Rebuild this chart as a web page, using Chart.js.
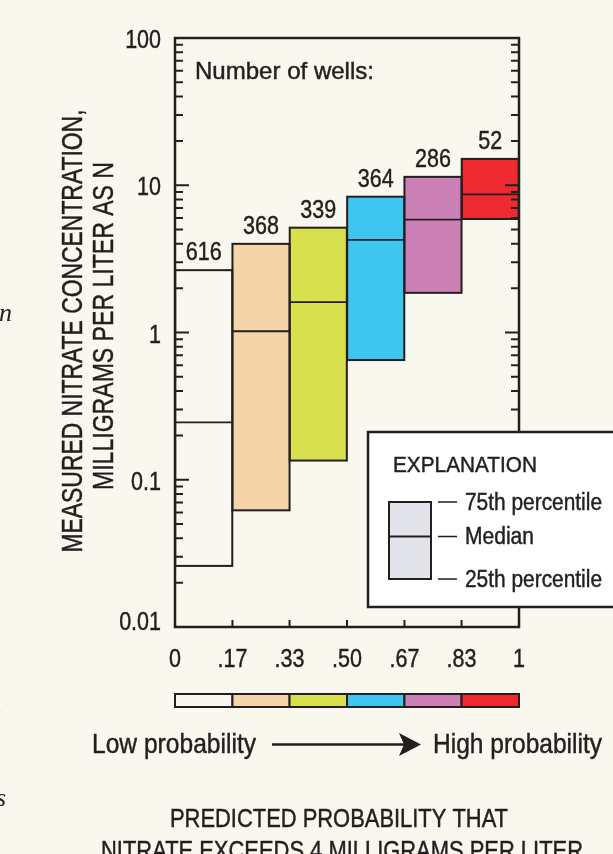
<!DOCTYPE html>
<html>
<head>
<meta charset="utf-8">
<script src="https://cdn.jsdelivr.net/npm/chart.js@4"></script>
<style>
  html, body { margin: 0; padding: 0; background: #f9f8ee; }
  #wrap { width: 613px; height: 854px; position: relative; }
</style>
</head>
<body>
<div id="wrap"><canvas id="nitrateChart"></canvas></div>
<script>
// probability classes (bin edges) and tick labels
const binEdges = [0, 0.167, 0.333, 0.5, 0.667, 0.833, 1];
const xTickLabels = ["0", ".17", ".33", ".50", ".67", ".83", "1"];
const yTickValues = [0.01, 0.1, 1, 10, 100];
const yTickLabels = ["0.01", "0.1", "1", "10", "100"];

// measured nitrate, mg/L as N
const wellCounts = [616, 368, 339, 364, 286, 52];
const pct25 = [0.026, 0.062, 0.135, 0.65, 1.86, 5.9];
const median = [0.245, 1.02, 1.61, 4.26, 5.84, 8.67];
const pct75 = [2.65, 4.0, 5.15, 8.36, 11.4, 15.1];
const boxColors = ["#f8f8f1", "#f5d4a9", "#d8e04d", "#3ec6f1", "#cc81b6", "#ec2a2f"];

const FONT = '"Liberation Sans Narrow", "Arial Narrow", "Liberation Sans", sans-serif';
const INK = "#231f20";

// text helper: squeezes to a target width (or a fixed condensed ratio)
function drawText(ctx, text, x, y, size, width, align, rotate) {
  ctx.save();
  ctx.font = size + "px " + FONT;
  const w = ctx.measureText(text).width;
  ctx.translate(x, y);
  if (rotate) ctx.rotate(rotate);
  ctx.scale(width ? width / w : 0.86, 1);
  ctx.textAlign = align || "left";
  ctx.textBaseline = "alphabetic";
  ctx.fillStyle = INK;
  ctx.strokeStyle = INK;
  ctx.lineWidth = 0.45;
  ctx.fillText(text, 0, 0);
  ctx.strokeText(text, 0, 0);
  ctx.restore();
}

const decorPlugin = {
  id: "decor",
  beforeDraw(chart) {
    const ctx = chart.ctx;
    ctx.save();
    ctx.fillStyle = "#f9f8ee";
    ctx.fillRect(0, 0, chart.width, chart.height);
    ctx.restore();
  },
  afterDatasetsDraw(chart) {
    const ctx = chart.ctx;
    const xs = chart.scales.x;
    const ys = chart.scales.y;
    const area = chart.chartArea;
    const bars = chart.getDatasetMeta(0).data;

    ctx.save();
    ctx.strokeStyle = INK;

    // box outlines + medians + counts
    bars.forEach((bar, i) => {
      const left = bar.x - bar.width / 2;
      const top = ys.getPixelForValue(pct75[i]);
      const bottom = ys.getPixelForValue(pct25[i]);
      ctx.lineWidth = 2;
      ctx.strokeRect(left, top, bar.width, bottom - top);
      const my = ys.getPixelForValue(median[i]);
      ctx.lineWidth = 1.8;
      ctx.beginPath();
      ctx.moveTo(left, my);
      ctx.lineTo(left + bar.width, my);
      ctx.stroke();
      drawText(ctx, String(wellCounts[i]), bar.x, top - 10, 25, 0, "center");
    });

    // frame
    ctx.lineWidth = 2.5;
    ctx.strokeRect(area.left, area.top, area.right - area.left, area.bottom - area.top);

    // y ticks, both sides, pointing inward
    ctx.lineWidth = 2;
    for (let d = 0; d < yTickValues.length; d++) {
      const dec = yTickValues[d];
      for (let m = 1; m <= 9; m++) {
        if (m > 1 && d === yTickValues.length - 1) continue;
        const py = ys.getPixelForValue(dec * m);
        const len = m === 1 ? 14 : 8;
        ctx.beginPath();
        ctx.moveTo(area.left, py);
        ctx.lineTo(area.left + len, py);
        ctx.moveTo(area.right, py);
        ctx.lineTo(area.right - len, py);
        ctx.stroke();
      }
    }
    // x ticks
    binEdges.forEach((v, i) => {
      if (i === 0 || i === binEdges.length - 1) return;
      const px = xs.getPixelForValue(v);
      ctx.beginPath();
      ctx.moveTo(px, area.bottom);
      ctx.lineTo(px, area.bottom - 7);
      ctx.stroke();
    });

    // tick labels
    yTickValues.forEach((v, i) => {
      const py = Math.min(ys.getPixelForValue(v) + 1, area.bottom - 6);
      drawText(ctx, yTickLabels[i], area.left - 14, py + 9, 25, 0, "right");
    });
    binEdges.forEach((v, i) => {
      drawText(ctx, xTickLabels[i], xs.getPixelForValue(v), area.bottom + 40, 25, 0, "center");
    });

    drawText(ctx, "Number of wells:", area.left + 20, 79, 24, 179);

    // y axis title
    drawText(ctx, "MEASURED NITRATE CONCENTRATION,", 82, 331, 29, 443, "center", -Math.PI / 2);
    drawText(ctx, "MILLIGRAMS PER LITER AS N", 113, 326, 29, 328, "center", -Math.PI / 2);

    // explanation box
    ctx.fillStyle = "#ffffff";
    ctx.fillRect(368, 432, 260, 175);
    ctx.lineWidth = 2.5;
    ctx.strokeRect(368, 432, 260, 175);
    drawText(ctx, "EXPLANATION", 393, 472, 22, 144);
    ctx.fillStyle = "#e2e4ea";
    ctx.fillRect(389, 502, 42, 77);
    ctx.lineWidth = 2;
    ctx.strokeRect(389, 502, 42, 77);
    ctx.beginPath();
    ctx.moveTo(389, 536.5);
    ctx.lineTo(431, 536.5);
    ctx.stroke();
    ctx.lineWidth = 1.5;
    [502, 536.5, 579].forEach(py => {
      ctx.beginPath();
      ctx.moveTo(438, py);
      ctx.lineTo(457, py);
      ctx.stroke();
    });
    drawText(ctx, "75th percentile", 465, 510, 23, 137);
    drawText(ctx, "Median", 465, 544, 23, 69);
    drawText(ctx, "25th percentile", 465, 587, 23, 137);

    // colour bar under the x axis
    for (let i = 0; i < boxColors.length; i++) {
      const x0 = xs.getPixelForValue(binEdges[i]);
      const x1 = xs.getPixelForValue(binEdges[i + 1]);
      ctx.fillStyle = boxColors[i];
      ctx.fillRect(x0, 694, x1 - x0, 13);
      ctx.lineWidth = 2;
      ctx.strokeRect(x0, 694, x1 - x0, 13);
    }

    drawText(ctx, "Low probability", 92, 753, 28, 164);
    drawText(ctx, "High probability", 433, 753, 28, 169);
    ctx.lineWidth = 2.5;
    ctx.beginPath();
    ctx.moveTo(272, 744.5);
    ctx.lineTo(405, 744.5);
    ctx.stroke();
    ctx.fillStyle = INK;
    ctx.beginPath();
    ctx.moveTo(399, 733);
    ctx.lineTo(421, 744.5);
    ctx.lineTo(399, 756);
    ctx.lineTo(404, 744.5);
    ctx.closePath();
    ctx.fill();

    drawText(ctx, "PREDICTED PROBABILITY THAT", 339, 827, 26, 338, "center");
    drawText(ctx, "NITRATE EXCEEDS 4 MILLIGRAMS PER LITER", 342, 859, 26, 482, "center");

    // bits of the neighbouring page text
    ctx.font = 'italic 26px "Liberation Serif", serif';
    ctx.fillStyle = INK;
    ctx.textAlign = "left";
    ctx.fillText("n", -1, 321);
    ctx.fillText("L", -13, 716);
    ctx.fillText("s", -4, 806);
    ctx.restore();
  }
};

new Chart(document.getElementById("nitrateChart").getContext("2d"), {
  type: "bar",
  data: {
    datasets: [
      {
        data: pct25.map((lo, i) => ({ x: (binEdges[i] + binEdges[i + 1]) / 2, y: [lo, pct75[i]] })),
        backgroundColor: boxColors,
        borderWidth: 0,
        barPercentage: 1,
        categoryPercentage: 1,
      },
    ],
  },
  options: {
    responsive: true,
    maintainAspectRatio: false,
    animation: false,
    layout: { padding: { left: 175, right: 94, top: 38, bottom: 227 } },
    plugins: {
      legend: { display: false },
      tooltip: { enabled: false },
    },
    scales: {
      x: {
        type: "linear",
        display: false,
        offset: false,
        min: 0,
        max: 1,
        afterBuildTicks: scale => {
          scale.ticks = binEdges.map(v => ({ value: v }));
        },
      },
      y: {
        type: "logarithmic",
        display: false,
        min: 0.01,
        max: 100,
        afterBuildTicks: scale => {
          scale.ticks = yTickValues.map(v => ({ value: v }));
        },
      },
    },
  },
  plugins: [decorPlugin],
});
</script>
</body>
</html>
